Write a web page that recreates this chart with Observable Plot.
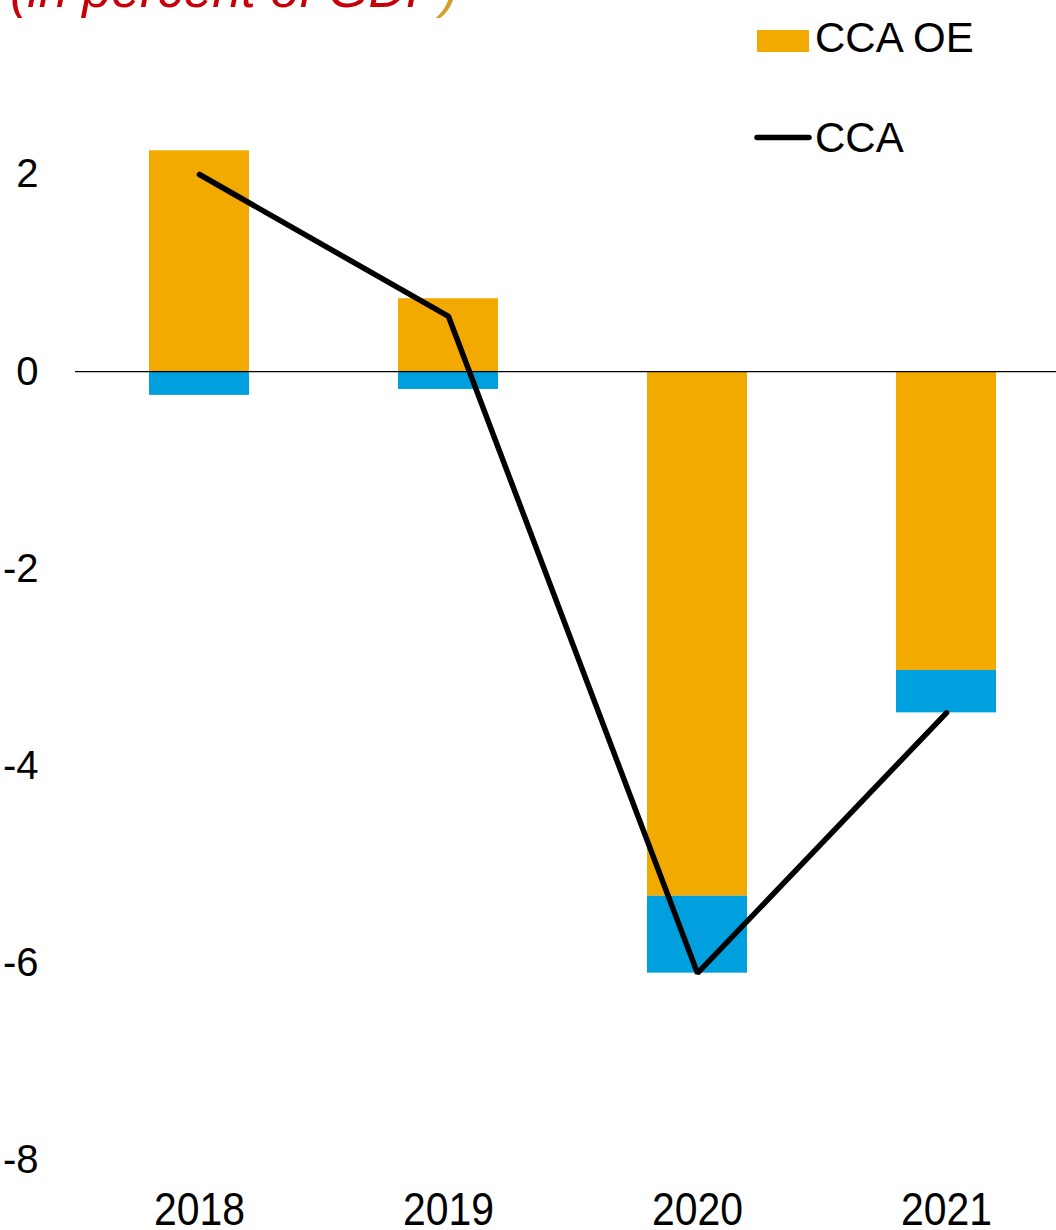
<!DOCTYPE html>
<html>
<head>
<meta charset="utf-8">
<script src="https://cdn.jsdelivr.net/npm/d3@7"></script>
<script src="https://cdn.jsdelivr.net/npm/@observablehq/plot@0.6"></script>
<style>
  html, body { margin: 0; padding: 0; background: #fff; }
  #wrap { position: relative; width: 1056px; height: 1230px; overflow: hidden; background: #fff; }
  #title {
    position: absolute; left: 10px; top: -37px; margin: 0;
    font-family: "Liberation Sans", Arial, sans-serif; font-style: italic;
    font-size: 52px; line-height: 52px; font-weight: normal; color: #C8000A; white-space: nowrap;
  }
  #title .close { color: #D4A02A; }
  #chart { position: absolute; left: 0; top: 0; }
  #legend { position: absolute; left: 0; top: 0; pointer-events: none; }
</style>
</head>
<body>
<div id="wrap">
  <div id="chart"></div>
  <h2 id="title">(in percent of GDP<span class="close">)</span></h2>
  <svg id="legend" width="1056" height="200"></svg>
</div>
<script>
// Current account balance, percent of GDP
const years = ["2018", "2019", "2020", "2021"];
const ccaOE = [2.24, 0.74, -5.32, -3.03];       // oil exporters component
const ccaOther = [-0.24, -0.18, -0.78, -0.43];  // remaining component
const cca = [2.0, 0.56, -6.1, -3.46];           // total
const seriesNames = ["CCA OE", "CCA other"];
const seriesColors = ["#F2AA00", "#009FDD"];
const yTicks = [-8, -6, -4, -2, 0, 2];

const barRows = [
  ...years.map((year, i) => ({year, series: seriesNames[0], value: ccaOE[i]})),
  ...years.map((year, i) => ({year, series: seriesNames[1], value: ccaOther[i]}))
];
const lineRows = years.map((year, i) => ({year, value: cca[i]}));

const chart = Plot.plot({
  width: 1056,
  height: 1230,
  marginLeft: 75,
  marginRight: 0,
  marginTop: 0,
  marginBottom: 40,
  style: {fontFamily: "'Liberation Sans', Arial, sans-serif", fontSize: "40px", color: "#000", background: "transparent"},
  x: {domain: years, range: [74.3, 1070.3], paddingInner: 0.6, paddingOuter: 0.3, label: null},
  y: {domain: [-8, 2], range: [1160, 174], label: null},
  color: {domain: seriesNames, range: seriesColors},
  marks: [
    Plot.barY(barRows, {x: "year", y: "value", fill: "series"}),
    Plot.ruleY([0], {stroke: "#000", strokeWidth: 1.2}),
    Plot.line(lineRows, {x: "year", y: "value", stroke: "#000", strokeWidth: 5.5, strokeLinecap: "round", strokeLinejoin: "miter"}),
    Plot.axisY({ticks: yTicks, tickSize: 0, tickPadding: 37, tickFormat: d => String(d), fontSize: 40, label: null}),
    Plot.axisX({tickSize: 0, tickPadding: 1, fontSize: 47, label: null})
  ]
});
document.getElementById("chart").appendChild(chart);

// Year labels are set in a condensed face: squeeze each one horizontally about its centre
d3.select(chart).selectAll('g[aria-label="x-axis tick label"] text').each(function() {
  const b = this.getBBox();
  const cx = b.x + b.width / 2;
  const t = this.getAttribute("transform") || "";
  this.setAttribute("transform", `${t} translate(${cx},0) scale(0.87,1) translate(${-cx},0)`);
});

// Legend
const legend = d3.select("#legend");
const fontFam = "'Liberation Sans', Arial, sans-serif";
legend.append("rect").attr("x", 757).attr("y", 30).attr("width", 52).attr("height", 22).attr("fill", seriesColors[0]);
legend.append("text").attr("x", 815).attr("y", 52).attr("font-family", fontFam).attr("font-size", 42).attr("fill", "#000").text("CCA OE");
legend.append("line").attr("x1", 757).attr("x2", 809).attr("y1", 137.5).attr("y2", 137.5)
  .attr("stroke", "#000").attr("stroke-width", 5.5).attr("stroke-linecap", "round");
legend.append("text").attr("x", 815).attr("y", 152).attr("font-family", fontFam).attr("font-size", 42).attr("fill", "#000").text("CCA");
</script>
</body>
</html>
